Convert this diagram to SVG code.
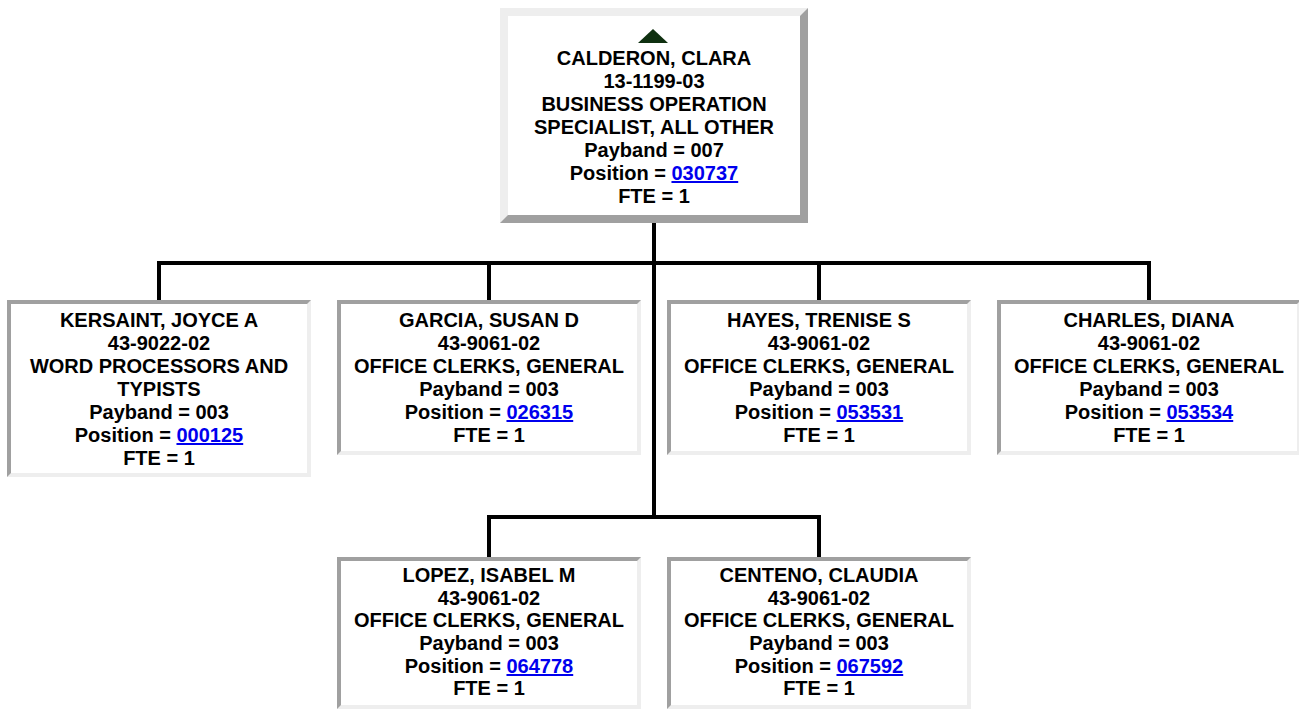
<svg xmlns="http://www.w3.org/2000/svg" width="1299" height="709" viewBox="0 0 1299 709">
<style>
text{font-family:"Liberation Sans",Arial,sans-serif;font-weight:bold;font-size:20px;fill:#000;text-anchor:middle}
.lk{fill:#0000ee;text-decoration:underline}
.dk{fill:#a0a0a0}
.lt{fill:#eeeeee}
.conn{stroke:#000;stroke-width:4;fill:none}
</style>
<rect width="1299" height="709" fill="#fff"/>
<g id="connectors">
<line class="conn" x1="654" y1="223" x2="654" y2="519"/>
<line class="conn" x1="157" y1="263" x2="1151" y2="263"/>
<line class="conn" x1="159" y1="263" x2="159" y2="300"/>
<line class="conn" x1="489" y1="263" x2="489" y2="300"/>
<line class="conn" x1="819" y1="263" x2="819" y2="300"/>
<line class="conn" x1="1149" y1="263" x2="1149" y2="300"/>
<line class="conn" x1="487" y1="517" x2="821" y2="517"/>
<line class="conn" x1="489" y1="517" x2="489" y2="557"/>
<line class="conn" x1="819" y1="517" x2="819" y2="557"/>
</g>
<g id="root">
<rect x="500" y="8" width="308" height="215" class="dk"/>
<polygon points="500,8 808,8 800,16 508,16 508,215 500,223" class="lt"/>
<rect x="508" y="16" width="292" height="199" fill="#fff"/>
<polygon points="638,43 668,43 653,29" fill="#0f3010"/>
<text x="654" y="65">CALDERON, CLARA</text>
<text x="654" y="88">13-1199-03</text>
<text x="654" y="111">BUSINESS OPERATION</text>
<text x="654" y="134">SPECIALIST, ALL OTHER</text>
<text x="654" y="157">Payband = 007</text>
<text x="654" y="180">Position = <tspan class="lk">030737</tspan></text>
<text x="654" y="203">FTE = 1</text>
</g>
<g id="kersaint">
<rect x="7" y="300" width="304" height="177" class="lt"/>
<polygon points="7,300 311,300 307,304 11,304 11,473 7,477" class="dk"/>
<rect x="11" y="304" width="296" height="169" fill="#fff"/>
<text x="159" y="327">KERSAINT, JOYCE A</text>
<text x="159" y="350">43-9022-02</text>
<text x="159" y="373">WORD PROCESSORS AND</text>
<text x="159" y="396">TYPISTS</text>
<text x="159" y="419">Payband = 003</text>
<text x="159" y="442">Position = <tspan class="lk">000125</tspan></text>
<text x="159" y="465">FTE = 1</text>
</g>
<g id="garcia">
<rect x="337" y="300" width="304" height="155" class="lt"/>
<polygon points="337,300 641,300 637,304 341,304 341,451 337,455" class="dk"/>
<rect x="341" y="304" width="296" height="147" fill="#fff"/>
<text x="489" y="327">GARCIA, SUSAN D</text>
<text x="489" y="350">43-9061-02</text>
<text x="489" y="373">OFFICE CLERKS, GENERAL</text>
<text x="489" y="396">Payband = 003</text>
<text x="489" y="419">Position = <tspan class="lk">026315</tspan></text>
<text x="489" y="442">FTE = 1</text>
</g>
<g id="hayes">
<rect x="667" y="300" width="304" height="155" class="lt"/>
<polygon points="667,300 971,300 967,304 671,304 671,451 667,455" class="dk"/>
<rect x="671" y="304" width="296" height="147" fill="#fff"/>
<text x="819" y="327">HAYES, TRENISE S</text>
<text x="819" y="350">43-9061-02</text>
<text x="819" y="373">OFFICE CLERKS, GENERAL</text>
<text x="819" y="396">Payband = 003</text>
<text x="819" y="419">Position = <tspan class="lk">053531</tspan></text>
<text x="819" y="442">FTE = 1</text>
</g>
<g id="charles">
<rect x="997" y="300" width="304" height="155" class="lt"/>
<polygon points="997,300 1301,300 1297,304 1001,304 1001,451 997,455" class="dk"/>
<rect x="1001" y="304" width="296" height="147" fill="#fff"/>
<text x="1149" y="327">CHARLES, DIANA</text>
<text x="1149" y="350">43-9061-02</text>
<text x="1149" y="373">OFFICE CLERKS, GENERAL</text>
<text x="1149" y="396">Payband = 003</text>
<text x="1149" y="419">Position = <tspan class="lk">053534</tspan></text>
<text x="1149" y="442">FTE = 1</text>
</g>
<g id="lopez">
<rect x="337" y="557" width="304" height="152" class="lt"/>
<polygon points="337,557 641,557 637,561 341,561 341,705 337,709" class="dk"/>
<rect x="341" y="561" width="296" height="144" fill="#fff"/>
<text x="489" y="582">LOPEZ, ISABEL M</text>
<text x="489" y="605">43-9061-02</text>
<text x="489" y="627">OFFICE CLERKS, GENERAL</text>
<text x="489" y="650">Payband = 003</text>
<text x="489" y="673">Position = <tspan class="lk">064778</tspan></text>
<text x="489" y="695">FTE = 1</text>
</g>
<g id="centeno">
<rect x="667" y="557" width="304" height="152" class="lt"/>
<polygon points="667,557 971,557 967,561 671,561 671,705 667,709" class="dk"/>
<rect x="671" y="561" width="296" height="144" fill="#fff"/>
<text x="819" y="582">CENTENO, CLAUDIA</text>
<text x="819" y="605">43-9061-02</text>
<text x="819" y="627">OFFICE CLERKS, GENERAL</text>
<text x="819" y="650">Payband = 003</text>
<text x="819" y="673">Position = <tspan class="lk">067592</tspan></text>
<text x="819" y="695">FTE = 1</text>
</g>
</svg>
